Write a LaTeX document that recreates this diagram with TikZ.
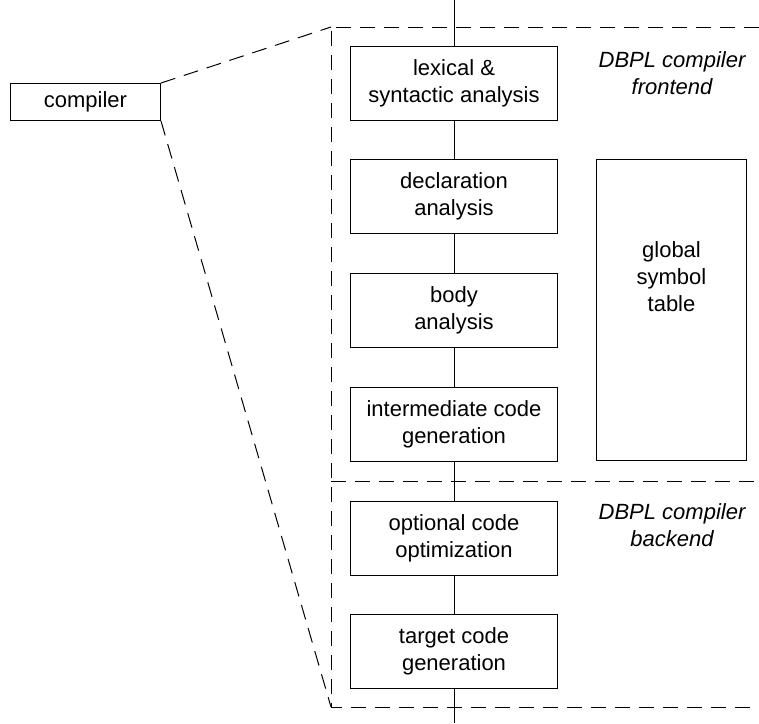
\documentclass[tikz,border=0pt]{standalone}
\usepackage{fontspec}
\setmainfont{Liberation Sans}
\usetikzlibrary{positioning}

\begin{document}
\begin{tikzpicture}[
  x=0.5pt, y=-0.5pt,
  font=\fontsize{11}{13.5}\selectfont,
  box/.style={draw, line width=0.5pt, align=center, minimum width=103.5pt,
              minimum height=37pt, inner sep=1pt},
  part/.style={align=center, font=\fontsize{11}{13.5}\selectfont\itshape},
  link/.style={line width=0.5pt},
  zoomline/.style={line width=0.5pt, dash pattern=on 7.5pt off 4.5pt}
]
\useasboundingbox (0,0) rectangle (759,723);
\node[box, minimum width=75pt, minimum height=18.5pt] (comp) at (85.5,102) {compiler};
\node[box] (lex) at (454,83.5) {lexical \&\\ syntactic analysis};
\node[box, below=19pt of lex] (decl) {declaration\\ analysis};
\node[box, below=19.5pt of decl] (body) {body\\ analysis};
\node[box, below=19.5pt of body] (inter) {intermediate code\\ generation};
\node[box, below=19.5pt of inter] (opt) {optional code\\ optimization};
\node[box, below=19pt of opt] (target) {target code\\ generation};
\node[box, minimum width=75pt, minimum height=150.5pt,
  label={[align=center, yshift=16.5pt]center:global\\ symbol\\ table}] (gst) at (671.5,310) {};
\node[part] (fe) at (672,73) {DBPL compiler\\ frontend};
\node[part] (be) at (672,525) {DBPL compiler\\ backend};
% frame of the expanded compiler
\coordinate (ftl) at (331,27);
\coordinate (fml) at (331,481);
\coordinate (fbl) at (331,707);
\draw[zoomline] (759,27) -- (ftl) -- (fbl) -- (759,707);
\draw[zoomline] (fml) -- (759,481);
\draw[zoomline] (comp.north east) -- (ftl);
\draw[zoomline] (comp.south east) -- (fbl);
% phases
\coordinate (in) at (454,0);
\coordinate (out) at (454,723);
\draw[link] (in) -- (lex);
\draw[link] (lex) -- (decl);
\draw[link] (decl) -- (body);
\draw[link] (body) -- (inter);
\draw[link] (inter) -- (opt);
\draw[link] (opt) -- (target);
\draw[link] (target) -- (out);
\end{tikzpicture}
\end{document}
